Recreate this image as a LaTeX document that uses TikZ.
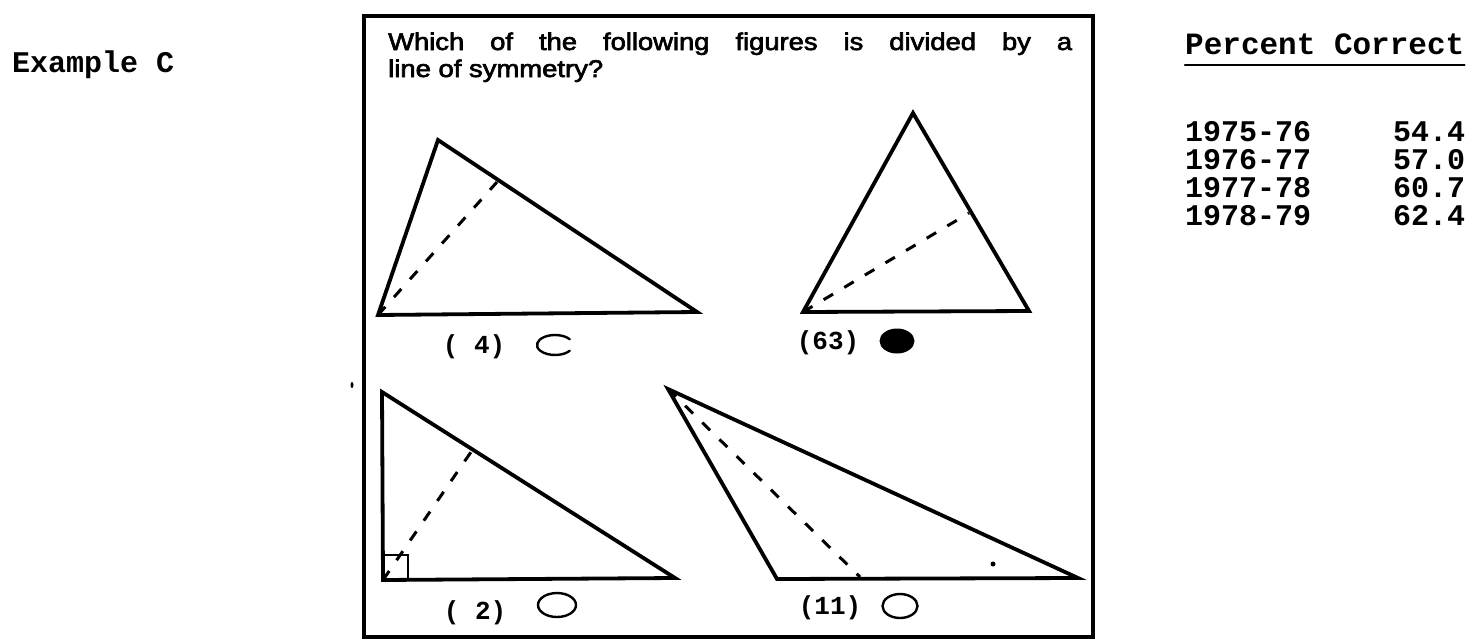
\documentclass[tikz,border=0pt]{standalone}
\usepackage{fontspec}
\usepackage{graphicx}
\usetikzlibrary{shapes.geometric}
\setmainfont{Liberation Sans}
\setmonofont{Liberation Mono}
\newfontface\qfont{Liberation Sans}[FakeBold=2.5]
\begin{document}
\begin{tikzpicture}[x=1pt,y=-1pt,line cap=round,
  tri/.style={line width=3.8pt,line join=miter},
  sym/.style={line width=3pt,line cap=butt,dash pattern=on 11pt off 13pt},
  bubble/.style={line width=2.4pt},
  mono/.style={font=\fontsize{30}{30}\selectfont\ttfamily\bfseries,inner sep=0pt},
  lbl/.style={font=\fontsize{26}{26}\selectfont\ttfamily\bfseries,inner sep=0pt},
  qtext/.style={font=\fontsize{24}{24}\selectfont\qfont,inner sep=0pt,anchor=base west}]
\useasboundingbox (0,0) rectangle (1479,642);

% left label
\node[mono,anchor=base west] (ex) at (12,72) {Example C};

% frame
\draw[line width=4pt,line join=miter] (364,16) rectangle (1093,637);

% question
\node[qtext] (q1) at (388,50) {\resizebox{684pt}{17.5pt}{\makebox[600pt][s]{Which of the following figures is divided by a}}};
\node[qtext] (q2) at (388,77) {\resizebox{215pt}{17.5pt}{line of symmetry?}};

% triangle 1
\coordinate (a1) at (438,140);
\coordinate (b1) at (378,315);
\coordinate (c1) at (697,312);
\coordinate (m1) at (497,182);
\draw[tri] (a1) -- (b1) -- (c1) -- cycle;
\draw[sym] (b1) -- (m1);
\node[lbl] (l1) at (474,347) {(\ 4)};
\node[inner sep=0pt,minimum size=0pt] (o1) at (555,345) {};
\draw[bubble] ([shift={(35:18pt and 10pt)}]o1.center) arc[start angle=35,end angle=325,x radius=18pt,y radius=10pt];

% triangle 2
\coordinate (a2) at (913,113);
\coordinate (b2) at (803,312);
\coordinate (c2) at (1029,311);
\coordinate (m2) at (969,213);
\draw[tri] (a2) -- (b2) -- (c2) -- cycle;
\draw[sym] (b2) -- (m2);
\node[lbl] (l2) at (828,343) {(63)};
\node[fill,ellipse,minimum width=35pt,minimum height=25pt,inner sep=0pt] (o2) at (897,341) {};

% triangle 3
\coordinate (a3) at (382,392);
\coordinate (b3) at (383,580);
\coordinate (c3) at (675,578);
\coordinate (m3) at (471,452);
\draw[tri] (a3) -- (b3) -- (c3) -- cycle;
\draw[line width=2pt] (383,555) -- (408,555) -- (408,580);
\draw[sym] (b3) -- (m3);
\node[lbl] (l3) at (475,613) {(\ 2)};
\node[bubble,draw,ellipse,minimum width=38pt,minimum height=24pt,inner sep=0pt] (o3) at (557,605) {};

% triangle 4
\coordinate (a4) at (668,389);
\coordinate (b4) at (777,579);
\coordinate (c4) at (1078,578);
\coordinate (m4) at (860,577);
\draw[tri] (a4) -- (b4) -- (c4) -- cycle;
\draw[sym] (a4) -- (m4);
\fill (993,564) circle (2.5pt);
\node[lbl] (l4) at (830,608) {(11)};
\node[bubble,draw,ellipse,minimum width=35pt,minimum height=24pt,inner sep=0pt] (o4) at (900,606) {};

% stray mark
\fill (352,385) ellipse (1.5pt and 3pt);

% table
\node[font=\fontsize{31}{31}\selectfont\ttfamily\bfseries,inner sep=0pt,anchor=base west] (pc) at (1185,55) {Percent Correct};
\draw[line width=2.5pt] ([yshift=-10pt]pc.base west) -- ([yshift=-10pt]pc.base east);
\node[font=\fontsize{30}{26.7}\selectfont\ttfamily\bfseries,inner sep=0pt,anchor=base west] (tab) at (1185,141)
  {\begin{tabular}[t]{@{}p{208pt}@{}l@{}}
   1975-76 & 54.4\\
   1976-77 & 57.0\\
   1977-78 & 60.7\\
   1978-79 & 62.4
   \end{tabular}};
\end{tikzpicture}
\end{document}
